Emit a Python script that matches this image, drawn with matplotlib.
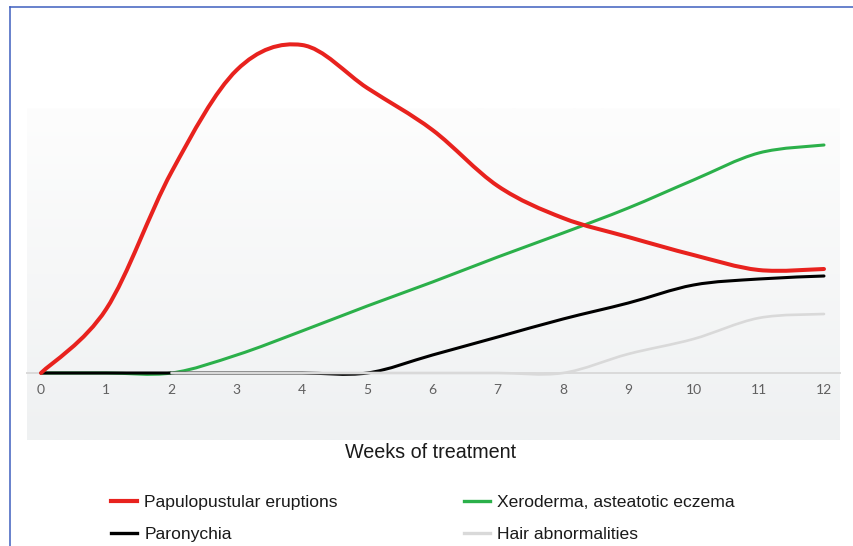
import numpy as np
import matplotlib
matplotlib.use("Agg")
import matplotlib.pyplot as plt
from matplotlib.path import Path
from matplotlib.patches import PathPatch
from matplotlib.lines import Line2D

# ---------------- data (relative incidence, arbitrary units) ----------------
weeks = [0, 1, 2, 3, 4, 5, 6, 7, 8, 9, 10, 11, 12]
papulopustular = [0, 64, 201, 303, 328, 285, 243, 187, 155, 136, 118, 103, 104]
xeroderma = [0, 0, 0, 18, 42, 67, 91, 116, 140, 165, 193, 220, 228]
paronychia = [0, 0, 0, 0, 0, 0, 18, 36, 54, 70, 88, 94, 97]
hair = [None, None, 0, 0, 0, 0, 0, 0, 0, 19, 34, 55, 59]

series_labels = ["Papulopustular eruptions", "Paronychia",
                 "Xeroderma, asteatotic eczema", "Hair abnormalities"]
xlabel = "Weeks of treatment"

W, H = 854, 546
fig = plt.figure(figsize=(W / 100, H / 100), dpi=100)


def fx(px):
    return px / W


def fy(py):
    return 1 - py / H


# gradient panel behind the plot
bg = fig.add_axes([fx(27), fy(440), fx(840) - fx(27), fy(108) - fy(440)])
top = np.array([0xfd, 0xfd, 0xfd]) / 255
bot = np.array([0xef, 0xf1, 0xf2]) / 255
t = np.linspace(0, 1, 256)[:, None, None]
grad = top * (1 - t) + bot * t
bg.imshow(grad, aspect="auto", extent=[0, 1, 0, 1], origin="upper")
bg.set_axis_off()

ax = fig.add_axes([fx(27), fy(440), fx(840) - fx(27), fy(30) - fy(440)])
ax.patch.set_alpha(0)
px_per_week = 65.2
ax.set_xlim(-14 / px_per_week, 12 + 16 / px_per_week)
ax.set_ylim(-67, 343)


def smooth_path(xs, ys):
    pts = [(x, y) for x, y in zip(xs, ys) if y is not None]
    p = np.array(pts, dtype=float)
    n = len(p)
    verts = [p[0]]
    codes = [Path.MOVETO]
    for i in range(n - 1):
        p0 = p[i - 1] if i > 0 else p[i]
        p1 = p[i]
        p2 = p[i + 1]
        p3 = p[i + 2] if i + 2 < n else p[i + 1]
        c1 = p1 + (p2 - p0) / 6
        c2 = p2 - (p3 - p1) / 6
        verts += [c1, c2, p2]
        codes += [Path.CURVE4] * 3
    return Path(np.array(verts), codes)


styles = [
    (xeroderma, "#2bb04a", 2.2, 2),
    (paronychia, "#000000", 2.2, 3),
    (hair, "#d9d9d9", 1.9, 4),
    (papulopustular, "#e8221e", 2.9, 5),
]
for ys, c, lw, z in styles:
    ax.add_patch(PathPatch(smooth_path(weeks, ys), fill=False, edgecolor=c,
                           lw=lw, zorder=z, capstyle="round", joinstyle="round"))

for s in ["top", "right", "left"]:
    ax.spines[s].set_visible(False)
ax.spines["bottom"].set_position(("data", 0))
ax.spines["bottom"].set_color("#dadada")
ax.spines["bottom"].set_linewidth(1.4)
ax.spines["bottom"].set_zorder(1)
ax.set_yticks([])
ax.set_xticks(weeks)
ax.set_xticklabels([str(w) for w in weeks], fontsize=10, color="#606060",
                   family=["Lato", "DejaVu Sans"])
ax.tick_params(axis="x", length=0, pad=8)

fig.text(fx(431), fy(453), xlabel, ha="center", va="center",
         fontsize=14.2, family=["Liberation Sans", "DejaVu Sans"], color="#1a1a1a")

handles = [
    Line2D([], [], color="#e8221e", lw=3.0),
    Line2D([], [], color="#000000", lw=2.4),
    Line2D([], [], color="#2bb04a", lw=2.4),
    Line2D([], [], color="#d9d9d9", lw=2.4),
]
leg = fig.legend(handles, series_labels, ncol=2, loc="upper left",
                 bbox_to_anchor=(fx(111), fy(495)), frameon=False,
                 prop={"family": ["Liberation Sans", "DejaVu Sans"], "size": 12.6},
                 handlelength=1.5, handletextpad=0.4, columnspacing=7.2,
                 labelspacing=0.93, borderpad=0, borderaxespad=0)
for txt in leg.get_texts():
    txt.set_color("#1a1a1a")

# blue frame
border = "#3f5fbf"
fig.add_artist(Line2D([fx(10.5), fx(10.5)], [0, fy(6.5)], color=border, lw=1.1,
                      transform=fig.transFigure))
fig.add_artist(Line2D([fx(10.5), 1], [fy(6.5), fy(6.5)], color=border, lw=1.1,
                      transform=fig.transFigure))

fig.savefig("out.png", dpi=100)
